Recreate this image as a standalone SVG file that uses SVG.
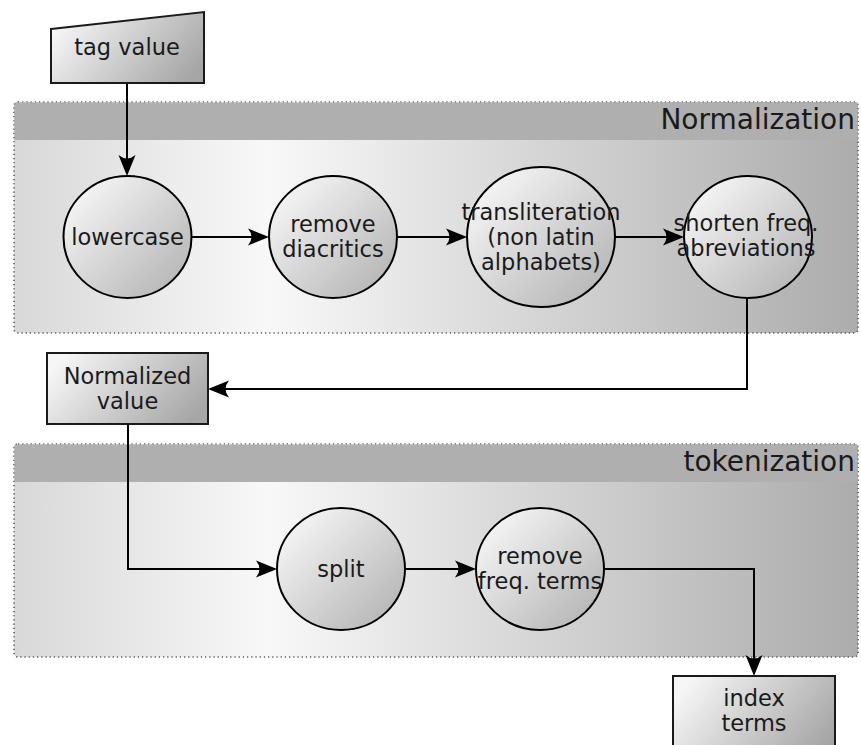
<svg xmlns="http://www.w3.org/2000/svg" width="861" height="745" viewBox="0 0 861 745">
  <style>
    .lbl { font-family: "DejaVu Sans", "Liberation Sans", sans-serif; font-size: 22.5px; fill: #1a1a1a; text-anchor: middle; }
    .head { font-family: "DejaVu Sans", "Liberation Sans", sans-serif; font-size: 28px; fill: #1a1a1a; text-anchor: end; }
    .stage { fill: url(#stageFill); stroke: #000; stroke-width: 2; }
    .box { fill: url(#boxFill); stroke: #1a1a1a; stroke-width: 2; }
    .panel { fill: url(#panelFill); stroke: #555; stroke-width: 1.6; stroke-dasharray: 1.2 3; }
    .band { fill: #afafaf; }
    .wire { fill: none; stroke: #000; stroke-width: 2; marker-end: url(#head); }
  </style>
  <defs>
    <linearGradient id="panelFill" x1="0" y1="0" x2="1" y2="0">
      <stop offset="0" stop-color="#d8d8d8"/>
      <stop offset="0.3" stop-color="#f8f8f8"/>
      <stop offset="1" stop-color="#acacac"/>
    </linearGradient>
    <linearGradient id="stageFill" x1="0.15" y1="0.15" x2="0.95" y2="0.9">
      <stop offset="0" stop-color="#f2f2f2"/>
      <stop offset="1" stop-color="#b4b4b4"/>
    </linearGradient>
    <linearGradient id="boxFill" x1="0" y1="0.3" x2="1" y2="0.7">
      <stop offset="0" stop-color="#f6f6f6"/>
      <stop offset="1" stop-color="#a6a6a6"/>
    </linearGradient>
    <marker id="head" viewBox="-12 -10 24 20" refX="0" refY="0" markerWidth="24" markerHeight="20" markerUnits="userSpaceOnUse" orient="auto">
      <path d="M10,0 L-11,-8.5 Q-4,0 -11,8.5 Z" fill="#000"/>
    </marker>
  </defs>

  <!-- stage containers -->
  <g id="normalization">
    <rect class="panel" x="14" y="102" width="844" height="231" rx="4"/>
    <rect class="band" x="14.5" y="102.5" width="843" height="37.5"/>
    <text class="head" x="855" y="129">Normalization</text>
  </g>
  <g id="tokenization">
    <rect class="panel" x="14" y="444" width="844" height="213" rx="4"/>
    <rect class="band" x="14.5" y="444.5" width="843" height="37.5"/>
    <text class="head" x="855" y="471">tokenization</text>
  </g>

  <!-- connectors -->
  <g id="connectors">
    <path class="wire" d="M127,84 V166"/>
    <path class="wire" d="M192,237 H259"/>
    <path class="wire" d="M397,237 H457"/>
    <path class="wire" d="M615,237 H674"/>
    <path class="wire" d="M747,298 V389 H218"/>
    <path class="wire" d="M128,424 V569 H267"/>
    <path class="wire" d="M405,569 H466"/>
    <path class="wire" d="M604,569 H754 V666"/>
  </g>

  <!-- input -->
  <g id="tag-value">
    <path class="box" d="M51,29 L204,12 V83 H51 Z"/>
    <text class="lbl" x="127" y="55">tag value</text>
  </g>

  <!-- normalization steps -->
  <g id="lowercase">
    <ellipse class="stage" cx="127.5" cy="237" rx="64" ry="61"/>
    <text class="lbl" x="127.5" y="245">lowercase</text>
  </g>
  <g id="remove-diacritics">
    <ellipse class="stage" cx="333" cy="237" rx="64" ry="61"/>
    <text class="lbl" x="333" y="232">remove</text>
    <text class="lbl" x="333" y="257">diacritics</text>
  </g>
  <g id="transliteration">
    <ellipse class="stage" cx="541" cy="237" rx="74" ry="70"/>
    <text class="lbl" x="541" y="220">transliteration</text>
    <text class="lbl" x="541" y="245">(non latin</text>
    <text class="lbl" x="541" y="270">alphabets)</text>
  </g>
  <g id="shorten-abbreviations">
    <ellipse class="stage" cx="748" cy="237" rx="64" ry="61"/>
    <text class="lbl" x="746" y="231">shorten freq.</text>
    <text class="lbl" x="746" y="256">abreviations</text>
  </g>

  <!-- intermediate value -->
  <g id="normalized-value">
    <rect class="box" x="47" y="353" width="161" height="71"/>
    <text class="lbl" x="127.5" y="384">Normalized</text>
    <text class="lbl" x="127.5" y="409">value</text>
  </g>

  <!-- tokenization steps -->
  <g id="split">
    <ellipse class="stage" cx="341" cy="569" rx="64" ry="61"/>
    <text class="lbl" x="341" y="577">split</text>
  </g>
  <g id="remove-freq-terms">
    <ellipse class="stage" cx="540" cy="569" rx="64" ry="61"/>
    <text class="lbl" x="540" y="564">remove</text>
    <text class="lbl" x="540" y="589">freq. terms</text>
  </g>

  <!-- output -->
  <g id="index-terms">
    <rect class="box" x="673" y="676" width="162" height="80"/>
    <text class="lbl" x="754" y="706">index</text>
    <text class="lbl" x="754" y="731">terms</text>
  </g>
</svg>
